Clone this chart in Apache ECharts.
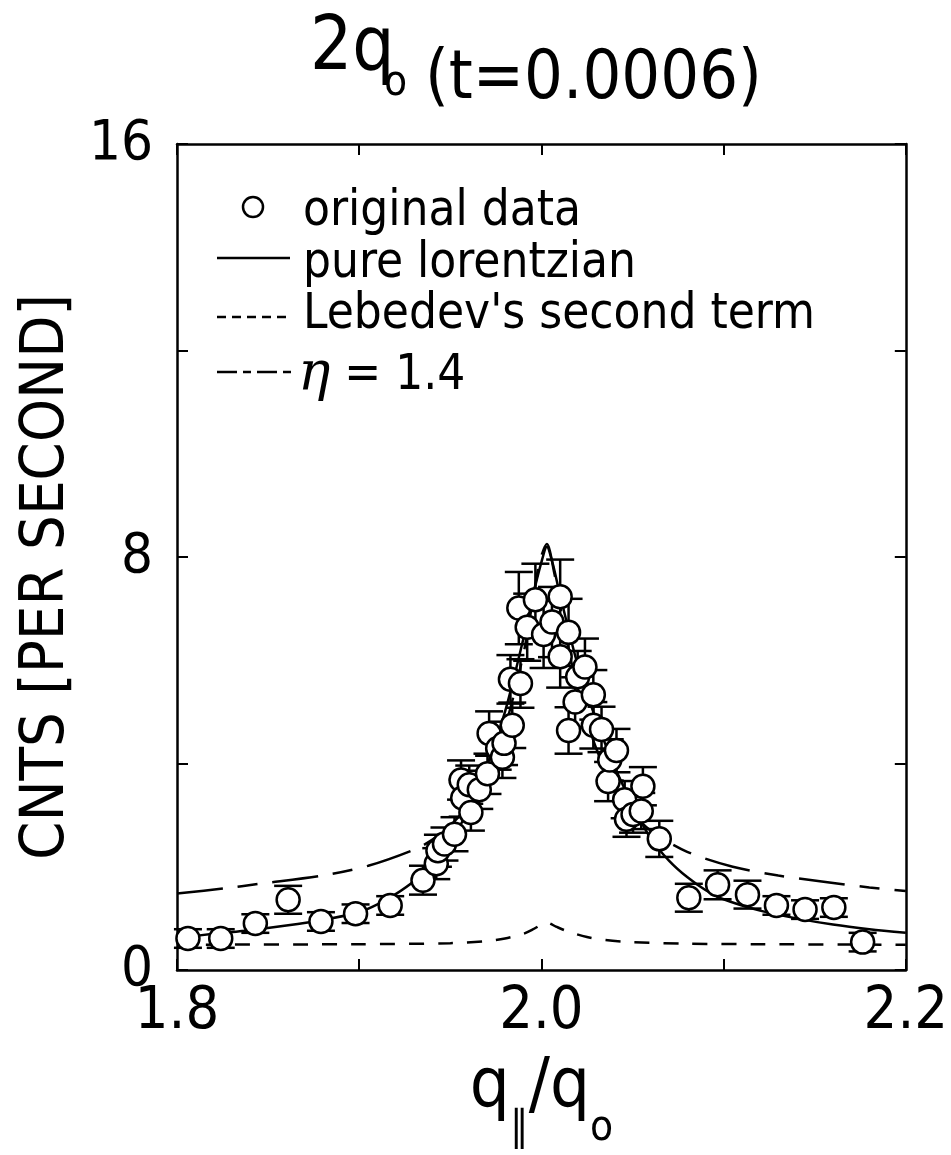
<!DOCTYPE html>
<html><head><meta charset="utf-8">
<script src="https://cdn.jsdelivr.net/npm/echarts@6/dist/echarts.min.js"></script>
<style>html,body{margin:0;padding:0;background:#fff}#c{width:951px;height:1155px}</style>
</head><body><div id="c"></div>
<script>
const FONT = "'DejaVu Sans Condensed', 'Liberation Sans Narrow', 'DejaVu Sans', sans-serif";

// measured points (q/q0, counts per second, error)
const dataX = [1.806,1.824,1.843,1.861,1.879,1.898,1.917,1.935,1.9423,1.9432,1.9468,1.9523,1.9559,1.9568,1.9604,1.9613,1.9659,1.9704,1.9713,1.976,1.9786,1.9795,1.983,1.984,1.9885,1.9876,1.9922,1.9967,2.0012,2.0058,2.0103,2.0103,2.0149,2.0149,2.0185,2.0199,2.0239,2.0285,2.0285,2.033,2.0366,2.0375,2.0412,2.0457,2.0467,2.0503,2.0548,2.0557,2.0647,2.0809,2.0967,2.1131,2.129,2.1447,2.1605,2.1763];
const dataY = [0.61,0.61,0.90,1.36,0.94,1.09,1.25,1.74,2.06,2.31,2.44,2.63,3.68,3.33,3.59,3.05,3.49,3.80,4.58,4.29,4.12,4.39,5.63,4.74,5.55,7.01,6.64,7.17,6.50,6.74,7.23,6.07,6.54,4.64,5.19,5.68,5.87,5.33,4.74,4.66,3.65,4.07,4.25,3.30,2.92,3.01,3.08,3.56,2.54,1.40,1.65,1.46,1.25,1.17,1.21,0.54];
const dataErr = [0.18,0.18,0.18,0.27,0.18,0.18,0.18,0.28,0.30,0.31,0.32,0.33,0.38,0.36,0.37,0.35,0.37,0.39,0.43,0.41,0.40,0.42,0.47,0.44,0.47,0.70,0.65,0.70,0.65,0.68,0.72,0.60,0.65,0.45,0.48,0.50,0.55,0.48,0.45,0.44,0.38,0.40,0.42,0.36,0.34,0.35,0.35,0.37,0.35,0.27,0.28,0.27,0.18,0.18,0.18,0.18];

// pure lorentzian
const lorX = [1.80,1.82,1.84,1.86,1.88,1.90,1.91,1.92,1.93,1.94,1.95,1.96,1.97,1.98,1.99,1.995,2.000,2.003,2.006,2.010,2.020,2.030,2.040,2.050,2.060,2.070,2.080,2.090,2.100,2.120,2.140,2.160,2.180,2.200];
const lorY = [0.62,0.70,0.77,0.86,0.97,1.12,1.27,1.47,1.72,2.05,2.50,3.10,3.95,5.00,6.40,7.20,7.90,8.20,7.90,7.30,5.90,4.85,3.95,3.20,2.55,2.12,1.80,1.55,1.37,1.15,1.00,0.88,0.79,0.72];

// Lebedev's second term
const lebX = [1.80,1.90,1.95,1.97,1.98,1.99,1.995,2.000,2.003,2.008,2.015,2.025,2.035,2.05,2.08,2.12,2.20];
const lebY = [0.49,0.50,0.52,0.56,0.61,0.70,0.78,0.88,0.92,0.84,0.74,0.64,0.58,0.54,0.51,0.50,0.49];

// eta = 1.4
const etaX = [1.80,1.826,1.845,1.88,1.905,1.93,1.94,1.95,1.96,1.97,1.98,1.99,1.995,1.999,2.003,2.007,2.01,2.015,2.02,2.03,2.04,2.05,2.06,2.08,2.105,2.13,2.157,2.18,2.20];
const etaY = [1.48,1.58,1.67,1.83,2.02,2.33,2.52,2.80,3.20,3.80,4.70,6.10,7.10,7.90,8.25,7.70,7.10,6.20,5.45,4.30,3.55,3.05,2.70,2.29,2.00,1.83,1.70,1.60,1.53];

const xTickLabels = ['1.8','2.0','2.2'];
const yTickLabels = ['0','8','16'];

const pairs = (xs, ys) => xs.map((x, i) => [x, ys[i]]);
const chart = echarts.init(document.getElementById('c'), null, {renderer: 'canvas'});
const K = '#000';
const axisCommon = {
  type: 'value',
  splitLine: {show: false},
  axisLine: {show: true, onZero: false, lineStyle: {color: K, width: 2.5}},
  axisTick: {show: true, inside: true, length: 11, lineStyle: {color: K, width: 2}},
};
const txt = (x, y, text, size, extra) => ({type: 'text', x: x, y: y, z: 10,
  style: Object.assign({text: text, fontSize: size, fontFamily: FONT, fill: K,
    textAlign: 'left', textVerticalAlign: 'bottom', align: 'left', verticalAlign: 'bottom'}, extra || {})});
const option = {
  animation: false,
  backgroundColor: '#fff',
  grid: {left: 177, right: 39, top: 144, bottom: 176, containLabel: false},
  xAxis: [
    Object.assign({}, axisCommon, {
      min: 1.8, max: 2.2, interval: 0.1, position: 'bottom',
      axisLabel: {
        margin: 13, color: K, fontSize: 59, fontFamily: FONT,
        formatter: v => { const s = v.toFixed(1); return xTickLabels.includes(s) ? s : ''; }
      },
      name: '{q|q}{s|∥}{q|/q}{s|o}', nameLocation: 'middle', nameGap: 84,
      nameTextStyle: {color: K, fontFamily: FONT, rich: {
        q: {fontSize: 70, fontFamily: FONT, color: K, verticalAlign: 'top', lineHeight: 74},
        s: {fontSize: 42, fontFamily: FONT, color: K, verticalAlign: 'bottom', lineHeight: 42, padding: [0,0,-22,0]}
      }}
    }),
    Object.assign({}, axisCommon, {
      min: 1.8, max: 2.2, interval: 0.1, position: 'top', axisLabel: {show: false}
    })
  ],
  yAxis: [
    Object.assign({}, axisCommon, {
      min: 0, max: 16, interval: 4, position: 'left',
      axisLabel: {
        margin: 24, color: K, fontSize: 56, fontFamily: FONT,
        formatter: v => { const s = String(v); return yTickLabels.includes(s) ? s : ''; }
      },
      name: 'CNTS [PER SECOND]', nameLocation: 'middle', nameGap: 97,
      nameTextStyle: {color: K, fontSize: 61, fontFamily: FONT, padding: [0, 40, 0, 0]}
    }),
    Object.assign({}, axisCommon, {
      min: 0, max: 16, interval: 4, position: 'right', axisLabel: {show: false}
    })
  ],
  graphic: [
    txt(310, 87, '2q', 74),
    txt(384, 105, 'o', 42),
    txt(425, 114, '(t=0.0006)', 68),
    // legend
    {type: 'circle', shape: {cx: 253, cy: 207, r: 10}, style: {fill: '#fff', stroke: K, lineWidth: 2.5}, z: 10},
    txt(303, 212, 'original data', 49, {textVerticalAlign: 'middle', verticalAlign: 'middle'}),
    {type: 'line', shape: {x1: 217, y1: 258, x2: 290, y2: 258}, style: {stroke: K, lineWidth: 2.5}, z: 10},
    txt(303, 264, 'pure lorentzian', 49, {textVerticalAlign: 'middle', verticalAlign: 'middle'}),
    {type: 'line', shape: {x1: 217, y1: 317, x2: 290, y2: 317}, style: {stroke: K, lineWidth: 2.5, lineDash: [9, 6]}, z: 10},
    txt(303, 315, "Lebedev's second term", 49, {textVerticalAlign: 'middle', verticalAlign: 'middle'}),
    {type: 'line', shape: {x1: 217, y1: 372, x2: 292, y2: 372}, style: {stroke: K, lineWidth: 2.5, lineDash: [20, 6, 8, 6]}, z: 10},
    txt(298, 376, '{i|η} = 1.4', 49, {textVerticalAlign: 'middle', verticalAlign: 'middle',
      rich: {i: {fontSize: 54, fontStyle: 'italic', fontFamily: "'DejaVu Serif', serif", fill: K}}})
  ],
  series: [
    {type: 'line', name: 'pure lorentzian', data: pairs(lorX, lorY), showSymbol: false, smooth: 0.3, z: 2,
      lineStyle: {color: K, width: 2.5, type: 'solid'}},
    {type: 'line', name: "Lebedev's second term", data: pairs(lebX, lebY), showSymbol: false, smooth: 0.3, z: 2,
      lineStyle: {color: K, width: 2.5, type: [15, 14]}},
    {type: 'line', name: 'η = 1.4', data: pairs(etaX, etaY), showSymbol: false, smooth: 0.3, z: 2,
      lineStyle: {color: K, width: 2.5, type: [46, 15, 20, 15]}},
    {type: 'custom', name: 'errors', z: 3,
      data: dataX.map((x, i) => [x, dataY[i] - dataErr[i], dataY[i] + dataErr[i]]),
      encode: {x: 0, y: [1, 2]},
      renderItem: function (params, api) {
        const x = api.value(0);
        const pLo = api.coord([x, api.value(1)]);
        const pHi = api.coord([x, api.value(2)]);
        const cw = 14;
        const st = {stroke: K, lineWidth: 2.5};
        return {type: 'group', children: [
          {type: 'line', shape: {x1: pHi[0], y1: pHi[1], x2: pLo[0], y2: pLo[1]}, style: st},
          {type: 'line', shape: {x1: pHi[0] - cw, y1: pHi[1], x2: pHi[0] + cw, y2: pHi[1]}, style: st},
          {type: 'line', shape: {x1: pLo[0] - cw, y1: pLo[1], x2: pLo[0] + cw, y2: pLo[1]}, style: st}
        ]};
      }
    },
    {type: 'scatter', name: 'original data', data: pairs(dataX, dataY), symbol: 'circle', symbolSize: 23, z: 4,
      itemStyle: {color: '#fff', borderColor: K, borderWidth: 2.5, opacity: 1}}
  ]
};
chart.setOption(option);
</script></body></html>
